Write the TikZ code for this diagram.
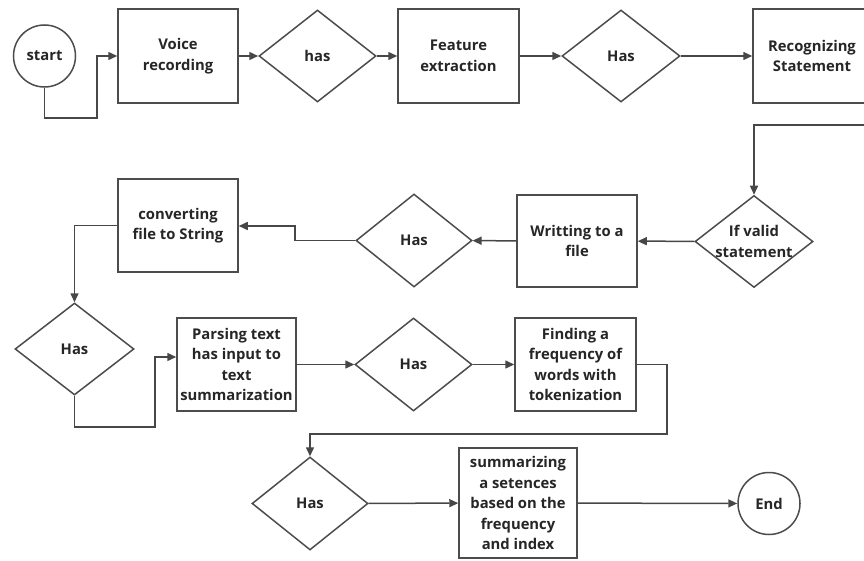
\documentclass[tikz,border=0pt]{standalone}
\usepackage{fontspec}
\setmainfont{Open Sans}
\usetikzlibrary{shapes.geometric,arrows.meta}
\tikzset{
  base/.style={draw=black!70, line width=1.5pt, fill=white, text=black!85,
    font=\bfseries\fontsize{14.8}{20.5}\selectfont, align=center, inner sep=0pt},
  term/.style={base, circle, minimum size=62pt},
  proc/.style={base, rectangle},
  dec/.style={base, diamond, aspect=1.27, minimum width=118pt, minimum height=92pt},
  conn/.style={draw=black!72, line width=1.5pt, -{Triangle[length=9pt,width=8pt]}},
}
\begin{document}
\begin{tikzpicture}[x=1pt,y=-1pt]
\useasboundingbox (0,0) rectangle (864,561);
% row 1
\node[term] (start) at (44.5,56) {start};
\node[proc, minimum width=120pt, minimum height=94pt] (voice) at (178,56) {Voice\\recording};
\node[dec, minimum width=117pt] (has1) at (317.5,56) {has};
\node[proc, minimum width=121pt, minimum height=94pt] (feat) at (458.5,56) {Feature\\extraction};
\node[dec] (has2) at (621,56) {Has};
\node[proc, minimum width=118pt, minimum height=94pt] (recog) at (812,56) {Recognizing\\Statement};
% row 2
\node[dec, inner sep=-3pt] (valid) at (754,241.5) {If valid\\statement};
\node[proc, minimum width=120pt, minimum height=92pt] (write) at (577,241) {Writting to a\\file};
\node[dec, minimum width=116pt, minimum height=93pt] (has3) at (414,240.5) {Has};
\node[proc, minimum width=120pt, minimum height=93pt] (conv) at (178,225.5) {converting\\file to String};
% row 3
\node[dec, minimum width=119pt] (has4) at (74.5,349) {Has};
\node[proc, minimum width=119pt, minimum height=93pt] (parse) at (236.5,364.5) {Parsing text\\has input to\\text\\summarization};
\node[dec, minimum width=117pt, minimum height=93pt] (has5) at (413.5,364.5) {Has};
\node[proc, minimum width=121pt, minimum height=93pt] (find) at (575.5,364.5) {Finding a\\frequency of\\words with\\tokenization};
% row 4
\node[dec, minimum width=116pt, minimum height=93pt] (has6) at (310,503.5) {Has};
\node[proc, minimum width=118pt, minimum height=110pt] (summ) at (518,503) {summarizing\\a setences\\based on the\\frequency\\and index};
\node[term] (end) at (769,503.5) {End};
% connectors
\coordinate (k1) at (155,357);
\coordinate (k2) at (295,226);
\draw[conn] (start.south) -- (44.5,118) -- (97,118) -- (97,56) -- (voice.west);
\draw[conn] (voice) -- (has1);
\draw[conn] (has1) -- (feat);
\draw[conn] (feat) -- (has2);
\draw[conn] (has2) -- (recog);
\draw[conn] (recog.east) -- (880,56) -- (880,125) -- (754,125) -- (valid.north);
\draw[conn] (valid) -- (write);
\draw[conn] (write) -- (has3);
\draw[conn] (has3.west) -- (295,240.5) -- (k2) -- (conv.east |- k2);
\draw[conn] (conv.west) -- (74.5,225.5) -- (has4.north);
\draw[conn] (has4.south) -- (74.5,427) -- (155,427) -- (k1) -- (parse.west |- k1);
\draw[conn] (parse) -- (has5);
\draw[conn] (has5) -- (find);
\draw[conn] (find.east) -- (667,364.5) -- (667,434) -- (310,434) -- (has6.north);
\draw[conn] (has6) -- (summ);
\draw[conn] (summ) -- (end);
\end{tikzpicture}
\end{document}
